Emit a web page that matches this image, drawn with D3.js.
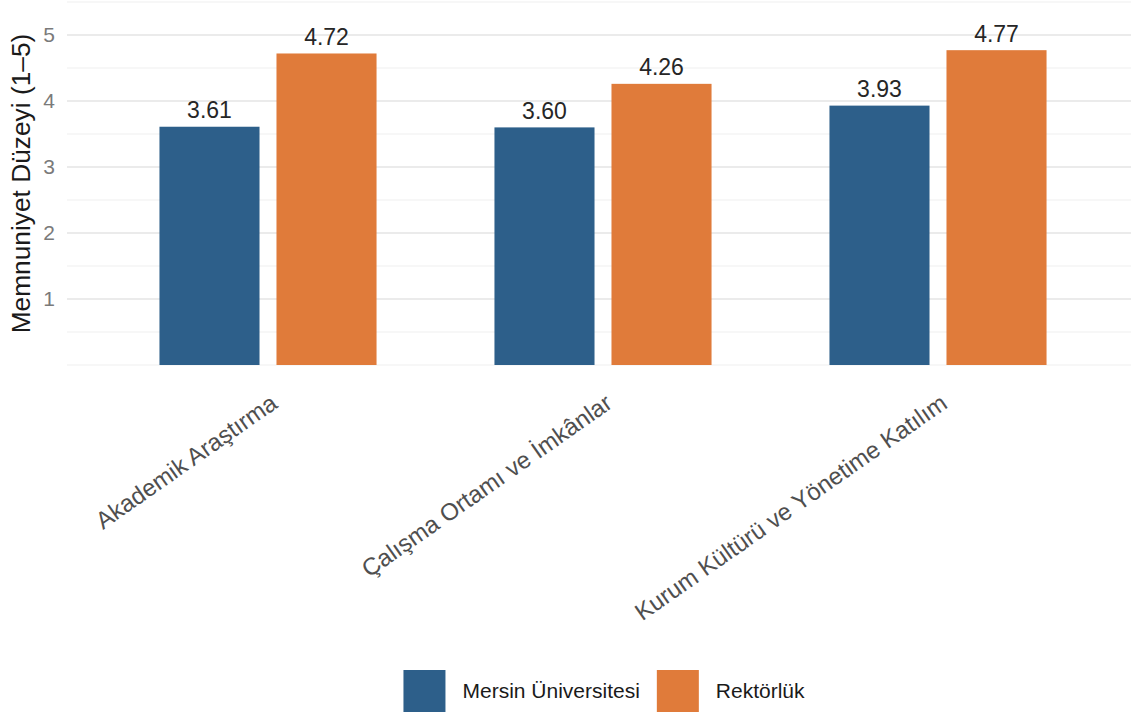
<!DOCTYPE html>
<html>
<head>
<meta charset="utf-8">
<script src="https://cdn.jsdelivr.net/npm/d3@7"></script>
<style>
  html, body { margin: 0; padding: 0; background: #fff; }
  svg { display: block; font-family: "Liberation Sans", Arial, Helvetica, sans-serif; }
</style>
</head>
<body>
<svg id="chart" width="1131" height="717"></svg>
<script>
// ---- Data ----
const categories = ["Akademik Araştırma", "Çalışma Ortamı ve İmkânlar", "Kurum Kültürü ve Yönetime Katılım"];
const seriesNames = ["Mersin Üniversitesi", "Rektörlük"];
const mersinValues = [3.61, 3.60, 3.93];
const rektorlukValues = [4.72, 4.26, 4.77];
const yTickValues = [1, 2, 3, 4, 5];
const yMinorValues = [0, 0.5, 1.5, 2.5, 3.5, 4.5, 5.5];
const yTitle = "Memnuniyet Düzeyi (1–5)";
const colors = ["#2d5f8a", "#e07b3a"];

const series = [mersinValues, rektorlukValues];
const rows = [];
categories.forEach((c, i) => {
  seriesNames.forEach((s, j) => rows.push({ cat: c, series: s, si: j, value: series[j][i] }));
});

// ---- Layout ----
const svg = d3.select("#chart");
const panel = { left: 67, right: 1139, top: 2, bottom: 365 };

const x = d3.scalePoint().domain(categories).range([panel.left, panel.right]).padding(0.6);
const step = x.step();
const dodge = d3.scaleBand().domain(seriesNames).range([-0.324 * step, 0.324 * step]).paddingInner(0.145);
const y = d3.scaleLinear().domain([0, 5.5]).range([panel.bottom, panel.top]);

// Grid lines
const grid = svg.append("g");
grid.selectAll("line.minor").data(yMinorValues).join("line")
  .attr("class", "minor")
  .attr("x1", panel.left).attr("x2", 1131)
  .attr("y1", d => y(d)).attr("y2", d => y(d))
  .attr("stroke", "#f0f0f0").attr("stroke-width", 1.1);
grid.selectAll("line.major").data(yTickValues).join("line")
  .attr("class", "major")
  .attr("x1", panel.left).attr("x2", 1131)
  .attr("y1", d => y(d)).attr("y2", d => y(d))
  .attr("stroke", "#ebebeb").attr("stroke-width", 2);

// Y axis labels
const yAxis = d3.axisLeft(y).tickValues(yTickValues).tickFormat(d3.format("d")).tickSize(0).tickPadding(0);
const yg = svg.append("g").attr("transform", `translate(55,0)`).call(yAxis);
yg.select(".domain").remove();
yg.selectAll("text").attr("fill", "#7a7a7a").style("font-size", "21px")
  .style("font-family", "'Liberation Sans', Arial, sans-serif");

// Y title
svg.append("text")
  .attr("transform", `translate(30,${(panel.top + panel.bottom) / 2}) rotate(-90)`)
  .attr("text-anchor", "middle")
  .attr("fill", "#1a1a1a")
  .style("font-size", "26.3px")
  .text(yTitle);

// Bars
svg.append("g").selectAll("rect").data(rows).join("rect")
  .attr("x", d => x(d.cat) + dodge(d.series))
  .attr("width", dodge.bandwidth())
  .attr("y", d => y(d.value))
  .attr("height", d => y(0) - y(d.value))
  .attr("fill", d => colors[d.si]);

// Value labels
svg.append("g").selectAll("text").data(rows).join("text")
  .attr("x", d => x(d.cat) + dodge(d.series) + dodge.bandwidth() / 2)
  .attr("y", d => y(d.value) - 8.5)
  .attr("text-anchor", "middle")
  .attr("fill", "#262626")
  .style("font-size", "23px")
  .text(d => d.value.toFixed(2));

// X axis labels (rotated)
const xAxis = d3.axisBottom(x).tickSize(0).tickPadding(0);
const xg = svg.append("g").attr("transform", `translate(0,${panel.bottom + 27})`).call(xAxis);
xg.select(".domain").remove();
xg.selectAll("text")
  .attr("fill", "#4f4f4f")
  .style("font-size", "24px")
  .style("font-family", "'Liberation Sans', Arial, sans-serif")
  .attr("text-anchor", "end")
  .attr("dy", "0.75em")
  .attr("y", 0)
  .attr("transform", "rotate(-35)");

// Legend
const legend = svg.append("g");
const keySize = 42, gapText = 17, gapItem = 17;
const items = legend.selectAll("g").data(seriesNames).join("g");
items.append("rect").attr("width", keySize).attr("height", keySize)
  .attr("fill", (d, i) => colors[i]);
items.append("text")
  .attr("x", keySize + gapText).attr("y", keySize / 2).attr("dy", "0.35em")
  .attr("fill", "#1a1a1a").style("font-size", "21px")
  .text(d => d);
let offsets = [], cur = 0;
items.each(function (d, i) {
  const w = d3.select(this).select("text").node().getComputedTextLength();
  offsets.push(cur);
  cur += keySize + gapText + w + gapItem;
});
const totalW = cur - gapItem;
const legendLeft = 604 - totalW / 2;
items.attr("transform", (d, i) => `translate(${legendLeft + offsets[i]},670)`);
</script>
</body>
</html>
